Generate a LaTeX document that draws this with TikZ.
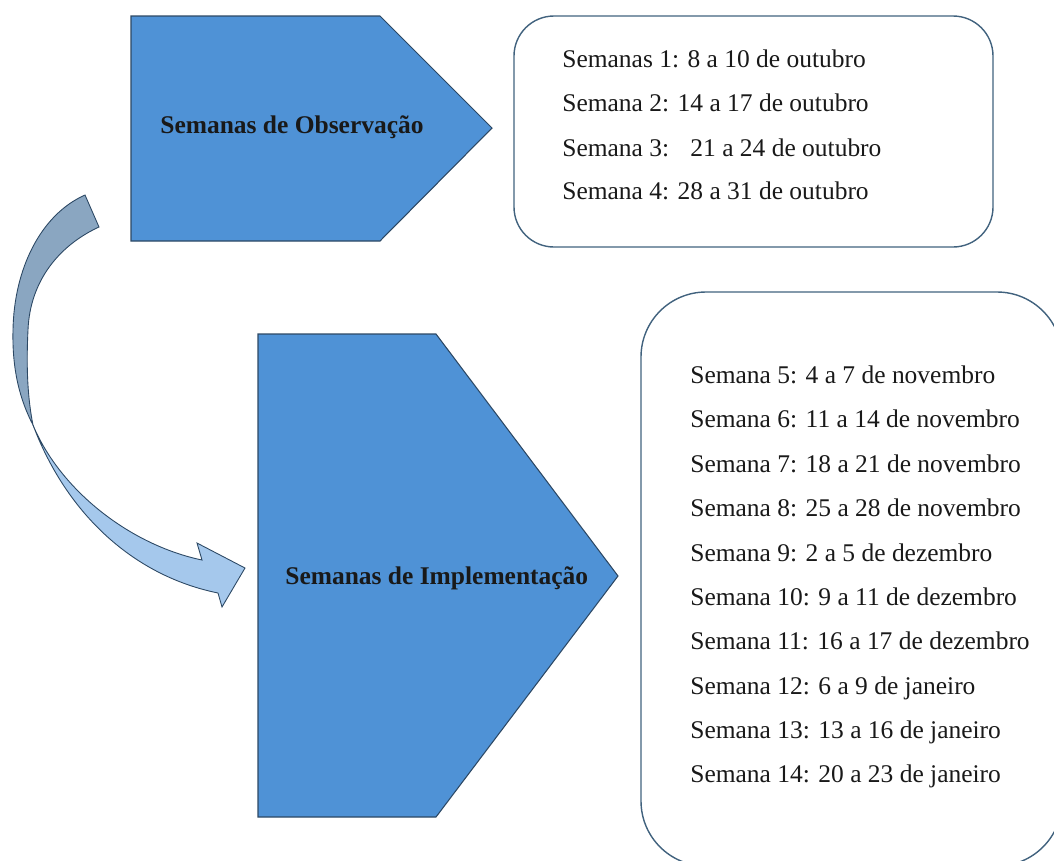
\documentclass[tikz,border=0pt]{standalone}
\usepackage{fontspec}
\setmainfont{Liberation Serif}
\definecolor{blocoazul}{RGB}{79,146,214}
\definecolor{contorno}{RGB}{44,72,100}
\definecolor{setaescura}{RGB}{138,166,193}
\definecolor{setaclara}{RGB}{165,200,236}
\definecolor{caixa}{RGB}{65,98,126}
\definecolor{texto}{RGB}{25,25,25}

\begin{document}
\begin{tikzpicture}[x=0.02cm,y=-0.02cm,
    semana/.style={anchor=base west,inner sep=0pt,text=texto,font=\fontsize{14.5}{17}\selectfont},
    titulo/.style={semana,font=\fontsize{14.5}{17}\selectfont\bfseries}]
    \useasboundingbox (0,0) rectangle (1054,860);
    % blocos em forma de seta
    \draw[fill=blocoazul,draw=contorno,line width=0.6pt] (131,16) -- (380,16) -- (492,128) -- (380,241) -- (131,241) -- cycle;
    \draw[fill=blocoazul,draw=contorno,line width=0.6pt] (258,334) -- (436,334) -- (618,576) -- (436,817) -- (258,817) -- cycle;
    \node[titulo] (obs) at (160,133) {Semanas de Observação};
    \node[titulo] (impl) at (285,584) {Semanas de Implementação};
    % seta curva
    \draw[fill=setaescura,draw=contorno,line width=0.5pt] (85,195) .. controls (40,215) and (14,270) .. (13,330)
        .. controls (12,370) and (20,400) .. (33,425)
        .. controls (28,400) and (26,370) .. (28,330)
        .. controls (30,280) and (60,245) .. (99,227) -- cycle;
    \draw[fill=setaclara,draw=contorno,line width=0.5pt] (33,425) .. controls (60,490) and (130,545) .. (202,560)
        -- (197,543) -- (245,568) -- (222,607) -- (218,593)
        .. controls (130,575) and (65,510) .. (33,425) -- cycle;
    % caixas com as datas
    \draw[color=caixa,line width=0.8pt,rounded corners=0.8cm] (514,16) rectangle (993,247);
    \draw[color=caixa,line width=0.8pt,rounded corners=1.3cm] (641,292) rectangle (1062,866);
    \node[semana] (s1) at (562,67) {Semanas 1: 8 a 10 de outubro};
    \node[semana] (s2) at (562,111) {Semana 2: 14 a 17 de outubro};
    \node[semana] (s3) at (562,156) {Semana 3: \ \ 21 a 24 de outubro};
    \node[semana] (s4) at (562,199) {Semana 4: 28 a 31 de outubro};
    \node[semana] (s5) at (690,383) {Semana 5: 4 a 7 de novembro};
    \node[semana] (s6) at (690,427) {Semana 6: 11 a 14 de novembro};
    \node[semana] (s7) at (690,472) {Semana 7: 18 a 21 de novembro};
    \node[semana] (s8) at (690,516) {Semana 8: 25 a 28 de novembro};
    \node[semana] (s9) at (690,561) {Semana 9: 2 a 5 de dezembro};
    \node[semana] (s10) at (690,605) {Semana 10: 9 a 11 de dezembro};
    \node[semana] (s11) at (690,649) {Semana 11: 16 a 17 de dezembro};
    \node[semana] (s12) at (690,694) {Semana 12: 6 a 9 de janeiro};
    \node[semana] (s13) at (690,738) {Semana 13: 13 a 16 de janeiro};
    \node[semana] (s14) at (690,782) {Semana 14: 20 a 23 de janeiro};
\end{tikzpicture}
\end{document}
